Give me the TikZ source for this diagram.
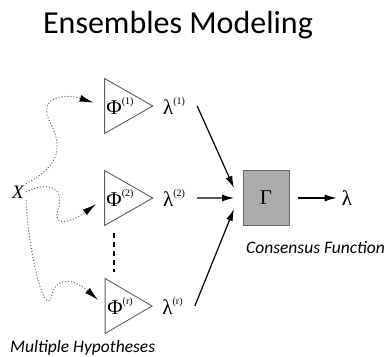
\documentclass[tikz,border=0pt]{standalone}
\usepackage{fontspec}
\setmainfont{Carlito}
\newfontfamily\tnr{Liberation Serif}
\usetikzlibrary{positioning,arrows.meta,shapes.geometric}

\newcommand{\hsup}[1]{\raisebox{1.1ex}{\fontsize{10pt}{10pt}\selectfont(#1)}}

\begin{document}
\begin{tikzpicture}[x=1pt, y=-1pt, node distance=92pt]
    \tikzset{
      hyp/.style = {isosceles triangle, isosceles triangle stretches, minimum width=55pt, minimum height=47pt, inner sep=0pt, draw=gray!75!black, line width=0.9pt, font=\tnr\fontsize{21pt}{21pt}\selectfont},
      sym/.style = {inner sep=2pt, font=\tnr\fontsize{21pt}{21pt}\selectfont},
      cons/.style = {rectangle, minimum width=46pt, minimum height=55pt, draw=gray!80!black, fill=gray!65, line width=0.8pt, font=\tnr\fontsize{21pt}{21pt}\selectfont},
      note/.style = {font=\itshape\fontsize{17.5pt}{17.5pt}\selectfont, anchor=base west, inner sep=0pt},
      dots/.style = {gray!75!black, line width=1pt, dash pattern=on 1pt off 2pt, -{Latex[length=14pt,width=7pt,black]}},
      arrow/.style = {line width=1.2pt, -{Latex[length=12pt,width=7pt]}}
    }
    \useasboundingbox (0,0) rectangle (384,357);

    \node (title) [anchor=base, font=\fontsize{32pt}{32pt}\selectfont] at (178,33) {Ensembles Modeling};

    \node (x) [sym, font=\tnr\itshape\fontsize{19pt}{19pt}\selectfont] at (18,192) {X};
    \node (h1) [hyp] at (120,106) {Φ\hsup{1}};
    \node (h2) [hyp, below of=h1] {Φ\hsup{2}};
    \node (hr) [hyp, below of=h2, yshift=-16pt] {Φ\hsup{r}};
    \node (l1) [sym, right=7pt of h1] {λ\hsup{1}};
    \node (l2) [sym, right=7pt of h2] {λ\hsup{2}};
    \node (lr) [sym, right=7pt of hr] {λ\hsup{r}};
    \node (gam) [cons] at (266,198) {Γ};
    \node (out) [sym] at (347,198) {λ};
    \node (cf) [note] at (246,253) {Consensus Function};
    \node (mh) [note] at (10,352) {Multiple Hypotheses};

    \coordinate (d1) at (114,233);
    \coordinate (d2) at (114,272);
    \coordinate (in1) at (234,188);
    \coordinate (in2) at (234,198);
    \coordinate (inr) at (234,209);

    % dotted inputs
    \draw [dots, shorten >=11pt] (x.north east) .. controls (62,165) and (62,145) .. (50,122) .. controls (38,100) and (60,92) .. (h1.west);
    \draw [dots, shorten >=10pt] (x.east) .. controls (45,182) and (66,185) .. (58,210) .. controls (52,228) and (72,222) .. (h2.west);
    \draw [dots, shorten >=9pt] (x.south east) .. controls (28,250) and (45,322) .. (52,295) .. controls (56,275) and (76,280) .. (hr.west);
    \draw [line width=1.2pt, dash pattern=on 5pt off 4pt] (d1) -- (d2);

    % consensus
    \draw [arrow] ([xshift=10pt]l1.east) -- (in1);
    \draw [arrow] ([xshift=10pt]l2.east) -- (in2);
    \draw [arrow] ([xshift=10pt]lr.east) -- (inr);
    \draw [arrow, shorten >=3pt] ([xshift=9pt]gam.east) -- (out);
\end{tikzpicture}
\end{document}
